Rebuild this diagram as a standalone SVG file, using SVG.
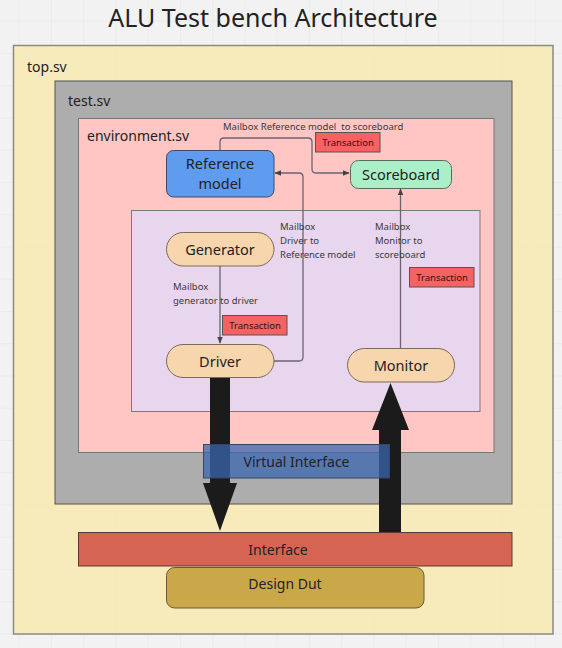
<svg xmlns="http://www.w3.org/2000/svg" width="562" height="648" viewBox="0 0 562 648">
<defs>
<pattern id="grid" x="18.75" y="20.75" width="32.25" height="32.25" patternUnits="userSpaceOnUse">
<path d="M0 0H32.25M0 0V32.25" fill="none" stroke="#e3e3e3" stroke-width="1"/>
</pattern>
<marker id="ah" viewBox="0 0 10 10" refX="9" refY="5" markerWidth="7" markerHeight="7" orient="auto" markerUnits="userSpaceOnUse">
<path d="M0 1L10 5L0 9Z" fill="#444"/>
</marker>
<style>
text{font-family:"Noto Sans","Open Sans","DejaVu Sans",sans-serif;fill:#222}
.lbl{font-size:14px}
.node{font-size:14.5px;text-anchor:middle}
.small{font-size:9.5px;fill:#3a3a3a}
.pill{fill:#f7d6ae;stroke:#7a6a5a;stroke-width:1}
.tx{fill:#f46262;stroke:#555;stroke-width:1}
.txt{font-size:9.5px;text-anchor:middle;fill:#3a0d0d}
.conn{fill:none;stroke:#6b6570;stroke-width:1.3;marker-end:url(#ah)}
</style>
</defs>
<rect width="562" height="648" fill="#f2f2f2"/>
<rect width="562" height="648" fill="url(#grid)"/>
<text x="273" y="26.5" font-size="25" text-anchor="middle">ALU Test bench Architecture</text>

<g id="top">
<rect x="13.5" y="45.5" width="539.5" height="588.5" fill="#f8e9b3" fill-opacity="0.88" stroke="#8a8a85" stroke-width="1.5"/>
<text class="lbl" x="27" y="72">top.sv</text>
</g>
<g id="test">
<rect x="55" y="81" width="457" height="423" fill="#adadad" stroke="#555" stroke-width="1"/>
<text class="lbl" x="68" y="106">test.sv</text>
</g>
<g id="environment">
<rect x="78.5" y="118.5" width="415.5" height="334" fill="#ffc6c4" stroke="#777" stroke-width="1"/>
<text class="lbl" x="87" y="141">environment.sv</text>
</g>
<g id="agent">
<rect x="131.5" y="210.5" width="348.5" height="201" fill="#e8d5ee" stroke="#7a7a7a" stroke-width="1"/>
</g>

<g id="connectors">
<path class="conn" d="M220 150V142Q220 138 224 138H308Q312 138 312 142V169Q312 173 316 173H349"/>
<path class="conn" d="M274 361H299Q303 361 303 357V177Q303 173 299 173H275"/>
<path class="conn" d="M220 266V343"/>
<path class="conn" d="M400.5 348V189"/>
<path d="M210 378H230V483H237L220 531L203 483H210Z" fill="#1b1b1b"/>
<path d="M379 532V430H372L390.5 383L409 430H401V532Z" fill="#1b1b1b"/>
</g>

<g id="reference_model">
<rect x="166.5" y="150.5" width="107.5" height="46.5" rx="7" fill="#5f9bef" stroke="#3d4a66" stroke-width="1"/>
<text class="node" x="220" y="169">Reference</text>
<text class="node" x="220" y="189">model</text>
</g>
<g id="scoreboard">
<rect x="350.5" y="160.5" width="101" height="28" rx="8" fill="#aaefc8" stroke="#556b5e" stroke-width="1"/>
<text class="node" x="401" y="179.5">Scoreboard</text>
</g>
<g id="generator">
<rect class="pill" x="166.5" y="232.5" width="107.5" height="33.5" rx="16.75"/>
<text class="node" x="220" y="254.5">Generator</text>
</g>
<g id="driver">
<rect class="pill" x="166.5" y="344.5" width="107.5" height="33" rx="16.5"/>
<text class="node" x="220" y="366.5">Driver</text>
</g>
<g id="monitor">
<rect class="pill" x="347.5" y="348.5" width="107" height="33.5" rx="16.75"/>
<text class="node" x="401" y="370.5">Monitor</text>
</g>

<g id="labels">
<text class="small" x="223" y="129.5" xml:space="preserve">Mailbox Reference model  to scoreboard</text>
<g id="tx1"><rect class="tx" x="315.5" y="132.5" width="64.5" height="19.5"/><text class="txt" x="348" y="146">Transaction</text></g>
<text class="small" x="280" y="229.5">Mailbox</text>
<text class="small" x="280" y="243.5">Driver to</text>
<text class="small" x="280" y="257.5">Reference model</text>
<text class="small" x="375" y="229.5">Mailbox</text>
<text class="small" x="375" y="243.5">Monitor to</text>
<text class="small" x="375" y="257.5">scoreboard</text>
<g id="tx3"><rect class="tx" x="409.5" y="267.5" width="64.5" height="19.5"/><text class="txt" x="442" y="281">Transaction</text></g>
<text class="small" x="173" y="289.5">Mailbox</text>
<text class="small" x="173" y="303.5">generator to driver</text>
<g id="tx2"><rect class="tx" x="222.5" y="315.5" width="64.5" height="19.5"/><text class="txt" x="255" y="329">Transaction</text></g>
</g>

<g id="virtual_interface">
<rect x="203.5" y="444.5" width="186" height="33.5" fill="#3a67b0" fill-opacity="0.75" stroke="#3a4660" stroke-width="1"/>
<text class="node" x="296.5" y="466.5" style="font-size:14px">Virtual Interface</text>
</g>
<g id="interface">
<rect x="78.5" y="532.5" width="433.5" height="33.5" fill="#d56552" stroke="#5a3a33" stroke-width="1"/>
<text class="node" x="278" y="554.5" style="font-size:14px">Interface</text>
</g>
<g id="design_dut">
<rect x="166.5" y="567.5" width="257.5" height="40.5" rx="8" fill="#caa84a" stroke="#6a5a33" stroke-width="1"/>
<text class="node" x="285" y="588.5" style="font-size:14px">Design Dut</text>
</g>
</svg>
